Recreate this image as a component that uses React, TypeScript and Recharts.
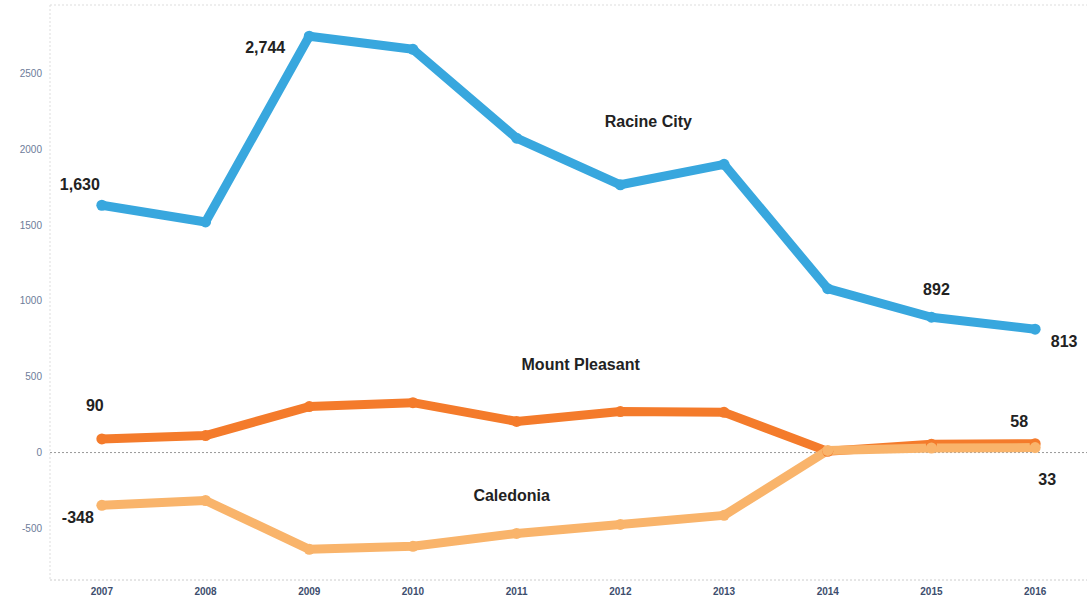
import React from 'react';
import {
  LineChart, Line, XAxis, YAxis, ReferenceLine, LabelList,
} from 'recharts';

const years = ['2007', '2008', '2009', '2010', '2011', '2012', '2013', '2014', '2015', '2016'];
const racineCity = [1630, 1520, 2744, 2658, 2072, 1765, 1900, 1080, 892, 813];
const mountPleasant = [90, 112, 303, 329, 205, 270, 265, 8, 55, 58];
const caledonia = [-348, -316, -638, -618, -533, -474, -414, 14, 30, 33];
const yTicks = [-500, 0, 500, 1000, 1500, 2000, 2500];

const data = years.map((year, i) => ({
  year,
  racine: racineCity[i],
  mount: mountPleasant[i],
  caledonia: caledonia[i],
}));

type Note = { text?: string; dx: number; dy: number };

// value callouts and series names, keyed by point index
const racineNotes: Record<number, Note[]> = {
  0: [{ dx: -22, dy: -21 }],
  2: [{ dx: -44, dy: 11 }],
  5: [{ text: 'Racine City', dx: 28, dy: -63 }],
  8: [{ dx: 5, dy: -28 }],
  9: [{ dx: 29, dy: 12 }],
};
const mountNotes: Record<number, Note[]> = {
  0: [{ dx: -7, dy: -33 }],
  4: [{ text: 'Mount Pleasant', dx: 64, dy: -57 }],
  9: [{ dx: -16, dy: -22 }],
};
const caledoniaNotes: Record<number, Note[]> = {
  0: [{ dx: -24, dy: 12 }],
  4: [{ text: 'Caledonia', dx: -5, dy: -38 }],
  9: [{ dx: 12, dy: 32 }],
};

const makeLabel = (notes: Record<number, Note[]>) => (props: any) => {
  const { x, y, index, value } = props;
  const list = notes[index];
  if (!list) return null;
  return (
    <g key={`n-${index}`}>
      {list.map((n, k) => (
        <text
          key={k}
          x={x + n.dx}
          y={y + n.dy}
          textAnchor="middle"
          dominantBaseline="central"
          fill="#222"
          fontSize={16}
          fontWeight="bold"
          fontFamily="'Liberation Sans', Arial, sans-serif"
        >
          {n.text ?? Number(value).toLocaleString('en-US')}
        </text>
      ))}
    </g>
  );
};

export default function App() {
  return (
    <div style={{ position: 'absolute', left: 0, top: 0, background: '#fff' }}>
      <LineChart
        width={1087}
        height={602}
        data={data}
        margin={{ top: 5, right: 0, bottom: 2, left: 0 }}
      >
        <XAxis
          dataKey="year"
          scale="band"
          axisLine={{ stroke: '#ccc', strokeDasharray: '2 2' }}
          tickLine={false}
          tick={{ fill: '#3d4e6e', fontSize: 10, fontWeight: 'bold', fontFamily: "'Liberation Sans', Arial, sans-serif" }}
          height={20}
        />
        <YAxis
          domain={[-840, 2950]}
          ticks={yTicks}
          width={50}
          axisLine={{ stroke: '#ddd', strokeDasharray: '2 2' }}
          tickLine={false}
          tick={{ fill: '#6d7c99', fontSize: 10, fontFamily: "'Liberation Sans', Arial, sans-serif" }}
        />
        <ReferenceLine y={2950} stroke="#ddd" strokeDasharray="2 2" />
        <ReferenceLine y={0} stroke="#999" strokeDasharray="2 2" />
        <Line
          dataKey="racine"
          stroke="#38a7de"
          strokeWidth={9}
          strokeLinecap="round"
          strokeLinejoin="round"
          dot={{ r: 5.5, fill: '#38a7de', stroke: 'none', strokeWidth: 0 }}
          isAnimationActive={false}
        >
          <LabelList dataKey="racine" content={makeLabel(racineNotes)} />
        </Line>
        <Line
          dataKey="mount"
          stroke="#f47b2b"
          strokeWidth={9}
          strokeLinecap="round"
          strokeLinejoin="round"
          dot={{ r: 5.5, fill: '#f47b2b', stroke: 'none', strokeWidth: 0 }}
          isAnimationActive={false}
        >
          <LabelList dataKey="mount" content={makeLabel(mountNotes)} />
        </Line>
        <Line
          dataKey="caledonia"
          stroke="#f9b46b"
          strokeWidth={9}
          strokeLinecap="round"
          strokeLinejoin="round"
          dot={{ r: 5.5, fill: '#f9b46b', stroke: 'none', strokeWidth: 0 }}
          isAnimationActive={false}
        >
          <LabelList dataKey="caledonia" content={makeLabel(caledoniaNotes)} />
        </Line>
      </LineChart>
    </div>
  );
}
